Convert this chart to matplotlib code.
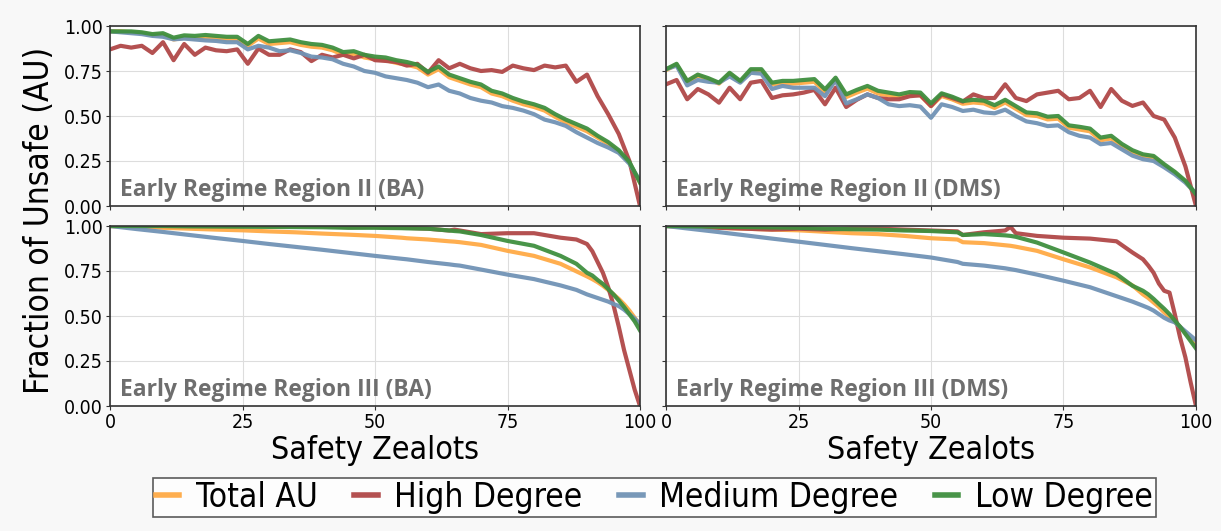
import matplotlib
matplotlib.use('Agg')
import matplotlib.pyplot as plt

plt.rcParams['font.family'] = ['DejaVu Sans']
plt.rcParams['font.stretch'] = 'condensed'

# x values for the noisy Region II panels (every 2 zealots)
x_top = list(range(0, 101, 2))
# x values for the smooth Region III panels
x_bot = [0, 5, 10, 15, 20, 25, 30, 35, 40, 45, 50, 55, 56, 60, 64, 65, 66, 70,
         75, 80, 85, 88, 90, 91, 92, 93, 94, 95, 96, 97, 98, 99, 100]

# Early Regime Region II (BA)
ba2_total = [0.97, 0.97, 0.965, 0.96, 0.95, 0.95, 0.925, 0.935, 0.93, 0.935, 0.93,
             0.925, 0.925, 0.89, 0.93, 0.90, 0.905, 0.91, 0.895, 0.885, 0.88,
             0.865, 0.84, 0.845, 0.825, 0.815, 0.81, 0.795, 0.785, 0.77, 0.73,
             0.76, 0.715, 0.695, 0.675, 0.66, 0.625, 0.61, 0.585, 0.565, 0.55,
             0.53, 0.495, 0.465, 0.44, 0.415, 0.38, 0.345, 0.30, 0.24, 0.13]
ba2_high = [0.87, 0.89, 0.88, 0.89, 0.85, 0.91, 0.81, 0.90, 0.84, 0.88, 0.865,
            0.86, 0.87, 0.79, 0.875, 0.84, 0.84, 0.87, 0.855, 0.805, 0.84,
            0.825, 0.84, 0.82, 0.84, 0.81, 0.806, 0.80, 0.78, 0.79, 0.74,
            0.81, 0.765, 0.79, 0.765, 0.75, 0.755, 0.745, 0.78, 0.765, 0.755,
            0.78, 0.77, 0.78, 0.69, 0.73, 0.61, 0.51, 0.40, 0.25, 0.0]
ba2_medium = [0.97, 0.965, 0.96, 0.955, 0.945, 0.94, 0.926, 0.93, 0.925, 0.92, 0.917,
              0.91, 0.91, 0.87, 0.89, 0.88, 0.86, 0.865, 0.85, 0.83, 0.825,
              0.815, 0.79, 0.775, 0.75, 0.74, 0.72, 0.71, 0.70, 0.685, 0.66,
              0.675, 0.64, 0.625, 0.60, 0.585, 0.575, 0.555, 0.545, 0.53, 0.51,
              0.48, 0.465, 0.445, 0.41, 0.38, 0.35, 0.325, 0.295, 0.235, 0.14]
ba2_low = [0.97, 0.97, 0.97, 0.965, 0.955, 0.96, 0.935, 0.948, 0.945, 0.95, 0.945,
           0.94, 0.94, 0.90, 0.945, 0.915, 0.92, 0.925, 0.91, 0.90, 0.895,
           0.88, 0.855, 0.86, 0.84, 0.83, 0.825, 0.81, 0.80, 0.785, 0.745,
           0.775, 0.73, 0.71, 0.69, 0.675, 0.64, 0.625, 0.60, 0.58, 0.565,
           0.545, 0.51, 0.48, 0.455, 0.43, 0.39, 0.355, 0.31, 0.245, 0.13]

# Early Regime Region II (DMS)
dms2_total = [0.755, 0.785, 0.69, 0.725, 0.705, 0.68, 0.735, 0.69, 0.75, 0.75, 0.675,
              0.68, 0.68, 0.685, 0.69, 0.633, 0.698, 0.605, 0.63, 0.652, 0.625,
              0.615, 0.605, 0.618, 0.615, 0.555, 0.611, 0.592, 0.568, 0.575, 0.57,
              0.545, 0.575, 0.54, 0.505, 0.50, 0.481, 0.485, 0.435, 0.425, 0.415,
              0.365, 0.375, 0.33, 0.30, 0.277, 0.27, 0.222, 0.183, 0.135, 0.065]
dms2_high = [0.676, 0.70, 0.593, 0.65, 0.62, 0.574, 0.657, 0.593, 0.685, 0.695, 0.60,
             0.615, 0.62, 0.63, 0.645, 0.565, 0.657, 0.55, 0.59, 0.62, 0.60,
             0.593, 0.593, 0.61, 0.615, 0.555, 0.62, 0.60, 0.58, 0.62, 0.60,
             0.60, 0.676, 0.60, 0.583, 0.62, 0.63, 0.64, 0.593, 0.60, 0.64,
             0.55, 0.65, 0.585, 0.556, 0.575, 0.50, 0.48, 0.38, 0.22, 0.0]
dms2_medium = [0.76, 0.78, 0.67, 0.70, 0.69, 0.685, 0.72, 0.685, 0.74, 0.735, 0.65,
               0.667, 0.657, 0.657, 0.657, 0.61, 0.70, 0.57, 0.593, 0.62, 0.60,
               0.565, 0.555, 0.56, 0.552, 0.49, 0.565, 0.55, 0.528, 0.535, 0.52,
               0.515, 0.535, 0.50, 0.47, 0.46, 0.444, 0.448, 0.41, 0.39, 0.38,
               0.343, 0.35, 0.315, 0.28, 0.26, 0.25, 0.215, 0.176, 0.13, 0.07]
dms2_low = [0.76, 0.79, 0.695, 0.73, 0.71, 0.685, 0.74, 0.695, 0.76, 0.76, 0.685,
            0.695, 0.695, 0.70, 0.705, 0.648, 0.713, 0.62, 0.645, 0.667, 0.64,
            0.63, 0.62, 0.633, 0.63, 0.57, 0.626, 0.607, 0.583, 0.59, 0.585,
            0.56, 0.59, 0.555, 0.52, 0.515, 0.496, 0.50, 0.448, 0.44, 0.43,
            0.38, 0.39, 0.345, 0.31, 0.287, 0.278, 0.232, 0.19, 0.14, 0.065]

# Early Regime Region III (BA)
ba3_total = [1.0, 0.995, 0.99, 0.985, 0.98, 0.976, 0.97, 0.965, 0.958, 0.952, 0.945,
             0.935, 0.932, 0.925, 0.915, 0.913, 0.91, 0.895, 0.862, 0.834, 0.79,
             0.748, 0.72, 0.705, 0.688, 0.668, 0.645, 0.62, 0.595, 0.565, 0.53,
             0.49, 0.45]
ba3_high = [1.0, 1.0, 1.0, 1.0, 1.0, 1.0, 1.0, 1.0, 1.0, 0.993, 0.995,
            0.99, 0.99, 0.985, 0.975, 0.98, 0.975, 0.955, 0.96, 0.96, 0.935,
            0.925, 0.90, 0.86, 0.80, 0.74, 0.66, 0.56, 0.44, 0.31, 0.20,
            0.09, 0.0]
ba3_medium = [1.0, 0.983, 0.967, 0.95, 0.933, 0.917, 0.90, 0.884, 0.868, 0.851, 0.834,
              0.818, 0.815, 0.80, 0.787, 0.783, 0.78, 0.758, 0.73, 0.705, 0.67,
              0.645, 0.62, 0.61, 0.60, 0.59, 0.58, 0.567, 0.555, 0.535, 0.51,
              0.485, 0.456]
ba3_low = [1.0, 1.0, 1.0, 0.998, 0.997, 0.996, 0.995, 0.994, 0.993, 0.99, 0.99,
           0.988, 0.987, 0.985, 0.975, 0.972, 0.97, 0.95, 0.917, 0.89, 0.834,
           0.79, 0.74, 0.725, 0.70, 0.678, 0.65, 0.62, 0.586, 0.55, 0.51,
           0.47, 0.42]

# Early Regime Region III (DMS)
dms3_total = [1.0, 0.995, 0.99, 0.985, 0.98, 0.976, 0.968, 0.96, 0.955, 0.945, 0.932,
              0.925, 0.91, 0.905, 0.893, 0.89, 0.885, 0.862, 0.815, 0.77, 0.715,
              0.67, 0.62, 0.60, 0.575, 0.55, 0.52, 0.495, 0.466, 0.44, 0.405,
              0.37, 0.33]
dms3_high = [1.0, 0.995, 0.99, 0.985, 0.98, 0.985, 0.98, 0.985, 0.985, 0.98, 0.975,
             0.97, 0.95, 0.965, 0.975, 0.995, 0.96, 0.945, 0.935, 0.93, 0.915,
             0.853, 0.815, 0.78, 0.74, 0.68, 0.64, 0.63, 0.51, 0.38, 0.27,
             0.13, 0.0]
dms3_medium = [1.0, 0.983, 0.966, 0.948, 0.93, 0.913, 0.895, 0.877, 0.86, 0.843, 0.825,
               0.80, 0.79, 0.78, 0.765, 0.76, 0.755, 0.73, 0.696, 0.66, 0.61,
               0.58, 0.557, 0.545, 0.53, 0.51, 0.49, 0.475, 0.465, 0.44, 0.415,
               0.39, 0.365]
dms3_low = [1.0, 0.998, 0.996, 0.994, 0.992, 0.99, 0.985, 0.982, 0.98, 0.975, 0.972,
            0.965, 0.95, 0.955, 0.948, 0.945, 0.94, 0.908, 0.853, 0.797, 0.733,
            0.668, 0.64, 0.62, 0.595, 0.567, 0.54, 0.51, 0.475, 0.44, 0.40,
            0.36, 0.32]

series_names = ['Total AU', 'High Degree', 'Medium Degree', 'Low Degree']
colors = ['#ffaa45', '#b04848', '#7193b5', '#3f8f3f']

panels = [
    ('Early Regime Region II (BA)', x_top, [ba2_total, ba2_high, ba2_medium, ba2_low]),
    ('Early Regime Region II (DMS)', x_top, [dms2_total, dms2_high, dms2_medium, dms2_low]),
    ('Early Regime Region III (BA)', x_bot, [ba3_total, ba3_high, ba3_medium, ba3_low]),
    ('Early Regime Region III (DMS)', x_bot, [dms3_total, dms3_high, dms3_medium, dms3_low]),
]

fig = plt.figure(figsize=(12.21, 5.31), dpi=100)
fig.patch.set_facecolor('#f8f8f8')

W, H = 1221.0, 531.0
lefts = [110 / W, 666 / W]
bottoms = [1 - 206 / H, 1 - 406 / H]
aw, ah = 530 / W, 180 / H

axes = []
for i, (title, xs, ys) in enumerate(panels):
    row, col = i // 2, i % 2
    ax = fig.add_axes([lefts[col], bottoms[row], aw, ah])
    axes.append(ax)
    for vals, c, name in zip(ys, colors, series_names):
        ax.plot(xs, vals, color=c, lw=3, alpha=0.95, label=name)
    ax.set_xlim(0, 100)
    ax.set_ylim(0, 1)
    ax.set_xticks([0, 25, 50, 75, 100])
    ax.set_yticks([0, 0.25, 0.5, 0.75, 1.0])
    ax.set_yticklabels(['0.00', '0.25', '0.50', '0.75', '1.00'])
    ax.grid(True, color='#dddddd', lw=0.8)
    ax.set_axisbelow(True)
    ax.tick_params(labelsize=14, length=3, pad=2, color='#333333')
    for s in ax.spines.values():
        s.set_color('#333333')
        s.set_linewidth(1.2)
    if col == 1:
        ax.tick_params(labelleft=False)
    if row == 0:
        ax.tick_params(labelbottom=False)
    else:
        ax.set_xlabel('Safety Zealots', fontsize=23, labelpad=2)
    ax.text(0.019, 0.055, title, transform=ax.transAxes, fontsize=16.5,
            fontweight='bold', color='#6e6e6e', family='Open Sans',
            fontstretch='normal')

fig.text(0.032, 0.585, 'Fraction of Unsafe (AU)', rotation=90, fontsize=24,
         ha='center', va='center')

handles, labels = axes[0].get_legend_handles_labels()
leg = fig.legend(handles, labels, loc='center', bbox_to_anchor=(0.536, 0.063),
                 ncol=4, fontsize=24, frameon=True, fancybox=False,
                 edgecolor='#333333', handlelength=0.7, handletextpad=0.5,
                 columnspacing=1.1, borderpad=0.1, borderaxespad=0)
leg.get_frame().set_linewidth(1.2)
for line in leg.get_lines():
    line.set_linewidth(4)

fig.savefig('out.png', dpi=100, facecolor=fig.get_facecolor())
